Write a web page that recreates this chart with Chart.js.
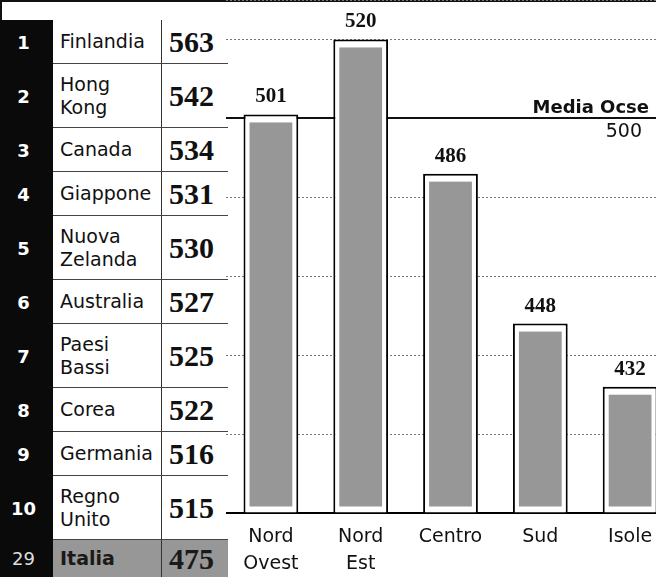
<!DOCTYPE html>
<html>
<head>
<meta charset="utf-8">
<script src="https://cdn.jsdelivr.net/npm/chart.js@4/dist/chart.umd.min.js"></script>
<style>
body { margin:0; width:656px; height:577px; overflow:hidden; background:#fff; position:relative; font-family:"DejaVu Sans", sans-serif; }
#frameTop { position:absolute; left:0; top:0; width:656px; height:2px; background:#111; }
#frameLeft { position:absolute; left:0; top:0; width:2px; height:20px; background:#111; }
#table { position:absolute; left:0; top:20px; width:230px; }
.row { display:flex; }
.rank { width:53px; background:#0a0a0a; color:#fff; font-weight:bold; font-size:18px; display:flex; align-items:center; justify-content:center; padding-right:6px; box-sizing:border-box; }
.name { width:109px; padding-left:7px; box-sizing:border-box; display:flex; align-items:center; font-size:19px; line-height:23px; color:#111; border-bottom:1px solid #444; border-right:1px solid #333; }
.score { width:66px; padding-left:7px; box-sizing:border-box; display:flex; align-items:center; font-family:"Liberation Serif", serif; font-weight:bold; font-size:30px; color:#111; border-bottom:1px solid #444; }
.last .rank { font-weight:normal; color:#ddd; }
.last .name, .last .score { background:#979797; border-bottom:none; color:#1a1a1a; }
.last .name { font-weight:bold; }
#chartBox { position:absolute; left:226px; top:0; width:449px; height:577px; }
</style>
</head>
<body>
<div id="frameTop"></div>
<div id="frameLeft"></div>
<div id="table"></div>
<div id="chartBox"><canvas id="myChart" width="449" height="577"></canvas></div>
<script>
// left table: top ten + Italia
var ranks = [1, 2, 3, 4, 5, 6, 7, 8, 9, 10, 29];
var countries = ['Finlandia', ['Hong', 'Kong'], 'Canada', 'Giappone', ['Nuova', 'Zelanda'], 'Australia',
    ['Paesi', 'Bassi'], 'Corea', 'Germania', ['Regno', 'Unito'], 'Italia'];
var countryScores = [563, 542, 534, 531, 530, 527, 525, 522, 516, 515, 475];

// bar chart: Italian macro areas
var regions = [['Nord', 'Ovest'], ['Nord', 'Est'], 'Centro', 'Sud', 'Isole'];
var regionScores = [501, 520, 486, 448, 432];
var ocseAverage = 500;
var axisMin = 400;
var axisMax = 530;

var table = document.getElementById('table');
for (var i = 0; i < ranks.length; i++) {
    var row = document.createElement('div');
    row.className = 'row';
    var twoLines = Array.isArray(countries[i]);
    if (i == ranks.length - 1) {
        row.className += ' last';
        row.style.height = '37px';
    } else {
        row.style.height = twoLines ? '64px' : '44px';
    }
    var r = document.createElement('div');
    r.className = 'rank';
    r.textContent = ranks[i];
    var n = document.createElement('div');
    n.className = 'name';
    n.innerHTML = twoLines ? countries[i].join('<br>') : countries[i];
    var s = document.createElement('div');
    s.className = 'score';
    s.textContent = countryScores[i];
    row.appendChild(r);
    row.appendChild(n);
    row.appendChild(s);
    table.appendChild(row);
}

// white box + grey inner fill, value on top, Ocse label
var barDeco = {
    id: 'barDeco',
    afterDatasetsDraw: function(chart) {
        var c = chart.ctx;
        var meta = chart.getDatasetMeta(0);
        c.save();
        meta.data.forEach(function(bar, i) {
            var left = bar.x - bar.width / 2;
            c.fillStyle = '#979797';
            c.fillRect(left + 6, bar.y + 8, bar.width - 12, bar.base - bar.y - 14);
            c.fillStyle = '#111';
            c.font = 'bold 21px "Liberation Serif"';
            c.textAlign = 'center';
            c.fillText(regionScores[i], bar.x, bar.y - 12);
        });
        var y = chart.scales.y.getPixelForValue(ocseAverage);
        var right = chart.chartArea.right;
        c.fillStyle = '#111';
        c.textAlign = 'right';
        c.font = 'bold 18px "DejaVu Sans"';
        c.fillText('Media Ocse', right - 26, y - 5);
        c.font = '19px "DejaVu Sans"';
        c.fillText(String(ocseAverage), right - 33, y + 19);
        c.restore();
    }
};

var ctx = document.getElementById('myChart');
var myChart = new Chart(ctx, {
    type: 'bar',
    data: {
        labels: regions,
        datasets: [{
            data: regionScores,
            base: axisMin,
            backgroundColor: '#fff',
            borderColor: '#000',
            borderWidth: 2,
            barPercentage: 0.61,
            categoryPercentage: 1
        }]
    },
    options: {
        responsive: false,
        animation: false,
        layout: { padding: 0 },
        plugins: { legend: { display: false }, tooltip: { enabled: false } },
        scales: {
            x: {
                grid: { display: false },
                border: { display: true, color: '#000', width: 2 },
                ticks: {
                    font: { family: 'DejaVu Sans', size: 19, lineHeight: 1.4 },
                    color: '#111', padding: 3, maxRotation: 0, autoSkip: false
                },
                afterFit: function(scale) { scale.height = 64; }
            },
            y: {
                min: axisMin,
                max: axisMax,
                ticks: { display: false, stepSize: 20 },
                grid: {
                    drawTicks: false,
                    color: function(c) { return c.tick && c.tick.value == ocseAverage ? '#111' : '#777'; },
                    lineWidth: function(c) { return c.tick && c.tick.value == ocseAverage ? 2 : 1; }
                },
                border: {
                    display: false,
                    dash: function(c) { return c.tick && c.tick.value == ocseAverage ? [] : [2, 2]; }
                }
            }
        }
    },
    plugins: [barDeco]
});
</script>
</body>
</html>
